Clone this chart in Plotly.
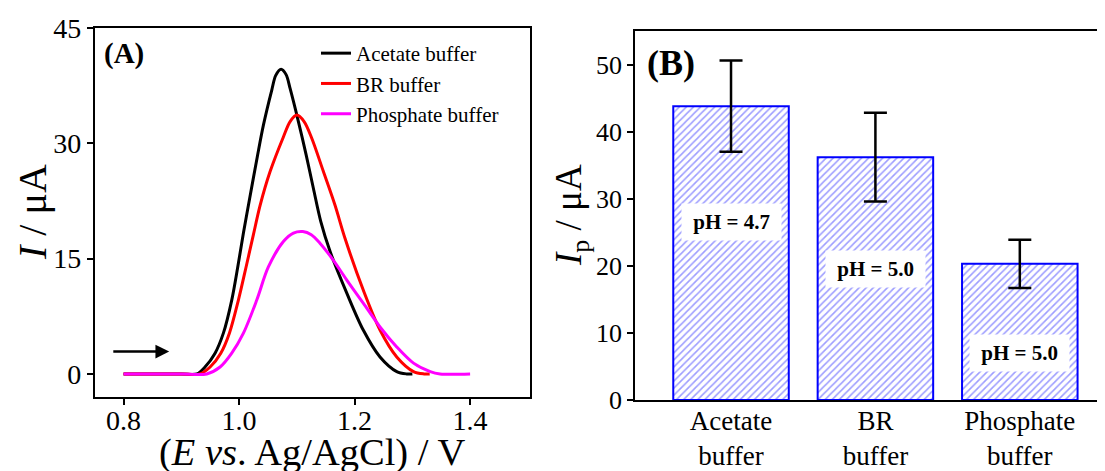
import plotly.graph_objects as go

# ---- Panel A data (DPV curves) ----
E_acetate = [0.80, 0.90, 0.927, 0.941, 0.9584, 0.9728, 0.9873, 0.9977, 1.0075, 1.0178, 1.0317, 1.042,
             1.0566, 1.0635, 1.0727, 1.0814, 1.0883, 1.1027, 1.116, 1.1287, 1.1415, 1.1576, 1.1865,
             1.215, 1.244, 1.273, 1.29, 1.30]
I_acetate = [0.0, 0.0, 0.0, 0.9, 2.7, 5.3, 9.6, 13.9, 18.3, 22.6, 28.3, 32.3,
             36.9, 38.8, 39.6, 38.9, 37.1, 32.8, 28.5, 24.1, 19.8, 15.9, 10.5,
             5.7, 2.2, 0.3, 0.0, 0.0]

E_br = [0.80, 0.90, 0.9325, 0.9498, 0.9683, 0.9832, 0.9988, 1.0121, 1.0248, 1.0364, 1.0537, 1.0767,
        1.0883, 1.100, 1.1126, 1.126, 1.146, 1.166, 1.1835, 1.215, 1.244, 1.273, 1.302, 1.32, 1.33]
I_br = [0.0, 0.0, 0.0, 0.9, 2.7, 5.3, 9.6, 13.9, 18.1, 21.9, 26.3, 30.8,
        32.8, 33.65, 32.8, 30.6, 26.3, 21.95, 17.6, 10.9, 5.7, 2.2, 0.3, 0.0, 0.0]

E_phos = [0.80, 0.90, 0.944, 0.9671, 0.9873, 1.0075, 1.0306, 1.0507, 1.0767, 1.094, 1.1103,
          1.125, 1.140, 1.163, 1.1865, 1.215, 1.244, 1.273, 1.302, 1.331, 1.348, 1.40]
I_phos = [0.0, 0.0, 0.0, 0.9, 2.7, 5.3, 9.6, 13.9, 17.2, 18.3, 18.5,
          18.1, 17.0, 14.8, 12.2, 9.2, 6.1, 3.5, 1.4, 0.3, 0.0, 0.0]

curve_names = ["Acetate buffer", "BR buffer", "Phosphate buffer"]
curve_colors = ["#000000", "#ff0000", "#ff00ff"]

# ---- Panel B data (bar chart) ----
categories = ["Acetate<br>buffer", "BR<br>buffer", "Phosphate<br>buffer"]
ip_values = [43.8, 36.2, 20.3]
ip_errors = [6.8, 6.6, 3.6]
ph_labels = ["pH = 4.7", "pH = 5.0", "pH = 5.0"]
ph_label_y = [26.5, 19.5, 7.0]

FONT = "Liberation Serif"
OFF = 8                      # page body margin in the browser
W, H = 1105 - OFF, 471 - OFF


def px_x(p):
    return (p - OFF) / W


def px_y(p):
    return 1 - (p - OFF) / H


fig = go.Figure()

for E, I, name, col in zip([E_acetate, E_br, E_phos], [I_acetate, I_br, I_phos], curve_names, curve_colors):
    fig.add_trace(go.Scatter(x=E, y=I, mode="lines", name=name,
                             line=dict(color=col, width=3, shape="spline", smoothing=0.9),
                             xaxis="x", yaxis="y"))

fig.add_trace(go.Bar(x=[0, 1, 2], y=ip_values, width=0.8, showlegend=False,
                     marker=dict(color="white",
                                 line=dict(color="#0000ff", width=2),
                                 pattern=dict(shape="/", fgcolor="#3c3cff", bgcolor="white",
                                              size=5, solidity=0.32)),
                     error_y=dict(type="data", array=ip_errors, color="black", thickness=2.5, width=11.5),
                     xaxis="x2", yaxis="y2"))

annotations = []
for i, (lab, yy) in enumerate(zip(ph_labels, ph_label_y)):
    annotations.append(dict(x=i, y=yy, xref="x2", yref="y2", text="<b>&nbsp;" + lab + "&nbsp;</b>",
                            showarrow=False, font=dict(family=FONT, size=21, color="black"),
                            bgcolor="white", borderpad=6))

# panel labels
annotations.append(dict(x=px_x(123.6), y=px_y(53.3), xref="paper", yref="paper", text="<b>(A)</b>",
                        showarrow=False, xanchor="center", yanchor="middle",
                        font=dict(family=FONT, size=29, color="black")))
annotations.append(dict(x=px_x(670.7), y=px_y(63.3), xref="paper", yref="paper", text="<b>(B)</b>",
                        showarrow=False, xanchor="center", yanchor="middle",
                        font=dict(family=FONT, size=36, color="black")))
# axis titles
annotations.append(dict(x=px_x(312), y=px_y(452), xref="paper", yref="paper",
                        text="(<i>E vs</i>. Ag/AgCl) / V", showarrow=False, xanchor="center", yanchor="middle",
                        font=dict(family=FONT, size=38.5, color="black")))
annotations.append(dict(x=px_x(33), y=px_y(212), xref="paper", yref="paper",
                        text="<i>I</i> / μA", showarrow=False, xanchor="center", yanchor="middle", textangle=-90,
                        font=dict(family=FONT, size=40, color="black")))
annotations.append(dict(x=px_x(571), y=px_y(215), xref="paper", yref="paper",
                        text="<i>I</i><sub>p</sub> / μA", showarrow=False, xanchor="center", yanchor="middle",
                        textangle=-90, font=dict(family=FONT, size=37, color="black")))
# scan direction arrow
annotations.append(dict(x=0.879, y=2.9, ax=0.7796, ay=2.9, xref="x", yref="y", axref="x", ayref="y",
                        text="", showarrow=True, arrowhead=2, arrowsize=1.1, arrowwidth=2.5, arrowcolor="black"))


def axis_style(size):
    return dict(showline=True, linecolor="black", linewidth=1.8, ticks="outside", ticklen=6,
                tickwidth=1.5, tickcolor="black", showgrid=False, zeroline=False, automargin=False,
                tickfont=dict(family=FONT, size=size, color="black"))


fig.update_layout(
    width=W, height=H,
    margin=dict(l=0, r=0, t=0, b=0, autoexpand=False),
    plot_bgcolor="white", paper_bgcolor="white",
    font=dict(family=FONT, color="black"),
    xaxis=dict(domain=[px_x(94.7), px_x(529.6)], range=[0.75, 1.503], tickvals=[0.8, 1.0, 1.2, 1.4],
               ticktext=["0.8", "1.0", "1.2", "1.4"], mirror=True, anchor="y", ticklabelstandoff=-9,
               **axis_style(28)),
    yaxis=dict(domain=[px_y(397), px_y(27.7)], range=[-3, 45], tickvals=[0, 15, 30, 45], mirror=True,
               anchor="x", **axis_style(28)),
    xaxis2=dict(domain=[px_x(635), 1.0], range=[-0.665, 2.59], tickvals=[0, 1, 2], ticktext=categories,
                mirror=True, anchor="y2", ticklabelstandoff=-4, **axis_style(27)),
    yaxis2=dict(domain=[px_y(400), px_y(31)], range=[0, 55], tickvals=[0, 10, 20, 30, 40, 50],
                anchor="x2", **axis_style(26)),
    legend=dict(x=px_x(316), y=px_y(33), xanchor="left", yanchor="top", bgcolor="rgba(0,0,0,0)",
                font=dict(family=FONT, size=21, color="black"), tracegroupgap=0, itemwidth=30),
    annotations=annotations,
    showlegend=True,
)
fig.update_layout(xaxis2=dict(ticks=""))

fig.write_html("out.html")
